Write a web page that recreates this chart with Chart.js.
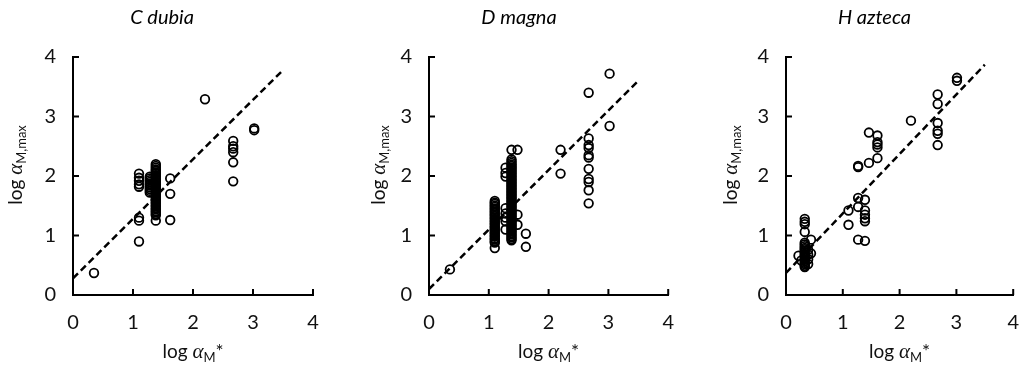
<!DOCTYPE html>
<html>
<head>
<meta charset="utf-8">
<script src="https://cdn.jsdelivr.net/npm/chart.js@4.4.1/dist/chart.umd.min.js"></script>
<style>
  html, body { margin: 0; padding: 0; background: #fff; }
  #wrap { position: relative; width: 1035px; height: 379px; }
  #wrap canvas { position: absolute; top: 0; }
</style>
</head>
<body>
<div id="wrap">
  <canvas id="c1" width="345" height="379" style="left:0px"></canvas>
  <canvas id="c2" width="345" height="379" style="left:345px"></canvas>
  <canvas id="c3" width="345" height="379" style="left:690px"></canvas>
</div>
<script>
// assi comuni
const axisMin = 0;
const axisMax = 4;
const tickStep = 1;
const panelTitles = ["C dubia", "D magna", "H azteca"];

// retta tratteggiata (x inizio/fine)
const fitX = [0, 3.5];

// C dubia: x della colonna, poi i valori y di ogni colonna
const dubiaCols = [0.35, 1.1, 1.28, 1.38, 1.62, 2.2, 2.67, 3.02];
const dubiaVals = [
  [0.37],
  [0.9, 1.25, 1.3, 1.82, 1.86, 1.92, 1.97, 2.04],
  [1.72, 1.75, 1.78, 1.81, 1.84, 1.87, 1.9, 1.93, 1.96, 1.99],
  [1.25, 1.34, 1.36, 1.39, 1.41, 1.44, 1.46, 1.49, 1.51, 1.54, 1.56, 1.59, 1.61, 1.64, 1.66,
   1.69, 1.71, 1.74, 1.76, 1.79, 1.81, 1.84, 1.86, 1.89, 1.91, 1.94, 1.96, 1.99, 2.01, 2.04,
   2.06, 2.09, 2.11, 2.14, 2.17, 2.2],
  [1.26, 1.7, 1.96],
  [3.29],
  [1.91, 2.23, 2.4, 2.46, 2.5, 2.59],
  [2.77, 2.8]
];
const dubiaFit = [0.28, 3.78];

// D magna
const magnaCols = [0.35, 1.1, 1.28, 1.38, 1.48, 1.62, 2.2, 2.67, 3.02];
const magnaVals = [
  [0.43],
  [0.79, 0.88, 0.9, 0.93, 0.95, 0.98, 1.0, 1.03, 1.05, 1.08, 1.1, 1.13, 1.15, 1.18, 1.2,
   1.23, 1.25, 1.28, 1.3, 1.33, 1.35, 1.38, 1.4, 1.43, 1.45, 1.48, 1.5, 1.53, 1.55, 1.58],
  [1.1, 1.24, 1.3, 1.37, 1.46, 1.99, 2.05, 2.14],
  [0.92, 0.94, 0.97, 0.99, 1.02, 1.04, 1.07, 1.09, 1.12, 1.14, 1.17, 1.19, 1.22, 1.24, 1.27,
   1.29, 1.32, 1.34, 1.37, 1.39, 1.42, 1.44, 1.47, 1.49, 1.52, 1.54, 1.57, 1.59, 1.62, 1.64,
   1.67, 1.69, 1.72, 1.74, 1.77, 1.79, 1.82, 1.84, 1.87, 1.89, 1.92, 1.94, 1.97, 1.99, 2.02,
   2.04, 2.07, 2.09, 2.12, 2.14, 2.17, 2.19, 2.22, 2.25, 2.28, 2.44],
  [2.44, 1.35, 1.18],
  [1.03, 0.81],
  [2.44, 2.04],
  [1.54, 1.76, 1.9, 1.95, 2.12, 2.31, 2.35, 2.47, 2.52, 2.63, 3.4],
  [2.84, 3.72]
];
const magnaFit = [0.1, 3.6];

// H azteca
const aztecaCols = [0.22, 0.27, 0.33, 0.39, 0.44, 1.1, 1.27, 1.39, 1.46, 1.61, 2.2, 2.67, 3.01];
const aztecaVals = [
  [0.66],
  [0.58],
  [0.47, 0.49, 0.52, 0.54, 0.57, 0.59, 0.62, 0.64, 0.67, 0.69, 0.72, 0.74, 0.77, 0.79, 0.82,
   0.85, 0.88, 1.06, 1.19, 1.23, 1.28],
  [0.52, 0.6, 0.68, 0.76],
  [0.7, 0.93],
  [1.18, 1.42],
  [0.93, 1.48, 1.63, 2.15, 2.17],
  [0.91, 1.24, 1.29, 1.35, 1.42, 1.6],
  [2.22, 2.73],
  [2.3, 2.48, 2.53, 2.57, 2.68],
  [2.93],
  [2.52, 2.71, 2.76, 2.89, 3.21, 3.37],
  [3.6, 3.65]
];
const aztecaFit = [0.37, 3.87];

const FONT = "Lato, 'Open Sans', sans-serif";
const GREEK = "'Liberation Serif', 'DejaVu Serif', serif";

// impaginazione dei tre pannelli
const panels = [
  { id: "c1", cols: dubiaCols, vals: dubiaVals, fit: dubiaFit, padL: 11, padR: 32, yW: 62, yTitleX: 22 },
  { id: "c2", cols: magnaCols, vals: magnaVals, fit: magnaFit, padL: 21, padR: 18, yW: 63, yTitleX: 40 },
  { id: "c3", cols: aztecaCols, vals: aztecaVals, fit: aztecaFit, padL: 33, padR: 9, yW: 63, yTitleX: 47 }
];

function toPoints(cols, vals) {
  const pts = [];
  cols.forEach((x, i) => vals[i].forEach(y => pts.push({ x: x, y: y })));
  return pts;
}

// testo con pedici, centrato su (cx, baseline)
function drawRich(ctx, parts, cx, base) {
  let w = 0;
  parts.forEach(p => { ctx.font = p.font; w += ctx.measureText(p.t).width; });
  let x = cx - w / 2;
  parts.forEach(p => {
    ctx.font = p.font;
    ctx.fillText(p.t, x, base + (p.dy || 0));
    x += ctx.measureText(p.t).width;
  });
}

// tacche interne + titoli degli assi
const axisDeco = {
  id: "axisDeco",
  afterDraw(chart, args, opts) {
    const ctx = chart.ctx;
    const area = chart.chartArea;
    const xs = chart.scales.x, ys = chart.scales.y;
    ctx.save();
    ctx.strokeStyle = "#000";
    ctx.lineWidth = 2;
    ctx.beginPath();
    xs.ticks.forEach(t => {
      const px = xs.getPixelForValue(t.value);
      ctx.moveTo(px, area.bottom);
      ctx.lineTo(px, area.bottom - 6);
    });
    ys.ticks.forEach(t => {
      const py = ys.getPixelForValue(t.value);
      ctx.moveTo(area.left, py);
      ctx.lineTo(area.left + 6, py);
    });
    ctx.stroke();

    ctx.fillStyle = "#111";
    ctx.textBaseline = "alphabetic";
    ctx.textAlign = "left";
    drawRich(ctx, [
      { t: "log ", font: "19px " + FONT },
      { t: "\u03B1", font: "italic 21px " + GREEK },
      { t: "M", font: "13px " + FONT, dy: 4 },
      { t: "*", font: "19px " + FONT }
    ], (area.left + area.right) / 2, 358);

    ctx.translate(opts.yTitleX, 165);
    ctx.rotate(-Math.PI / 2);
    drawRich(ctx, [
      { t: "log ", font: "19px " + FONT },
      { t: "\u03B1", font: "italic 21px " + GREEK },
      { t: "M,max", font: "13px " + FONT, dy: 4 }
    ], 0, 0);
    ctx.restore();
  }
};

panels.forEach((p, i) => {
  new Chart(document.getElementById(p.id), {
    type: "scatter",
    data: {
      datasets: [
        {
          type: "line",
          data: [{ x: fitX[0], y: p.fit[0] }, { x: fitX[1], y: p.fit[1] }],
          borderColor: "#000",
          borderWidth: 2.5,
          borderDash: [7, 4],
          pointRadius: 0,
          fill: false
        },
        {
          data: toPoints(p.cols, p.vals),
          borderColor: "#000",
          backgroundColor: "rgba(0,0,0,0)",
          borderWidth: 1.8,
          pointRadius: 4.3,
          pointHoverRadius: 4.3
        }
      ]
    },
    options: {
      responsive: false,
      animation: false,
      layout: { padding: { left: p.padL, right: p.padR, top: 0, bottom: 0 } },
      plugins: {
        legend: { display: false },
        tooltip: { enabled: false },
        title: {
          display: true,
          text: panelTitles[i],
          color: "#000",
          font: { family: FONT, size: 20, style: "italic", weight: "normal" },
          padding: { top: 6, bottom: 27 }
        },
        axisDeco: { yTitleX: p.yTitleX }
      },
      scales: {
        x: {
          type: "linear",
          min: axisMin,
          max: axisMax,
          ticks: { stepSize: tickStep, padding: 16, color: "#111", font: { family: FONT, size: 20 } },
          grid: { drawOnChartArea: false, drawTicks: false },
          border: { color: "#000", width: 2 },
          afterFit: s => { s.height = 84; }
        },
        y: {
          type: "linear",
          min: axisMin,
          max: axisMax,
          ticks: { stepSize: tickStep, padding: 17, color: "#111", font: { family: FONT, size: 20 } },
          grid: { drawOnChartArea: false, drawTicks: false },
          border: { color: "#000", width: 2 },
          afterFit: s => { s.width = p.yW; }
        }
      }
    },
    plugins: [axisDeco]
  });
});
</script>
</body>
</html>
